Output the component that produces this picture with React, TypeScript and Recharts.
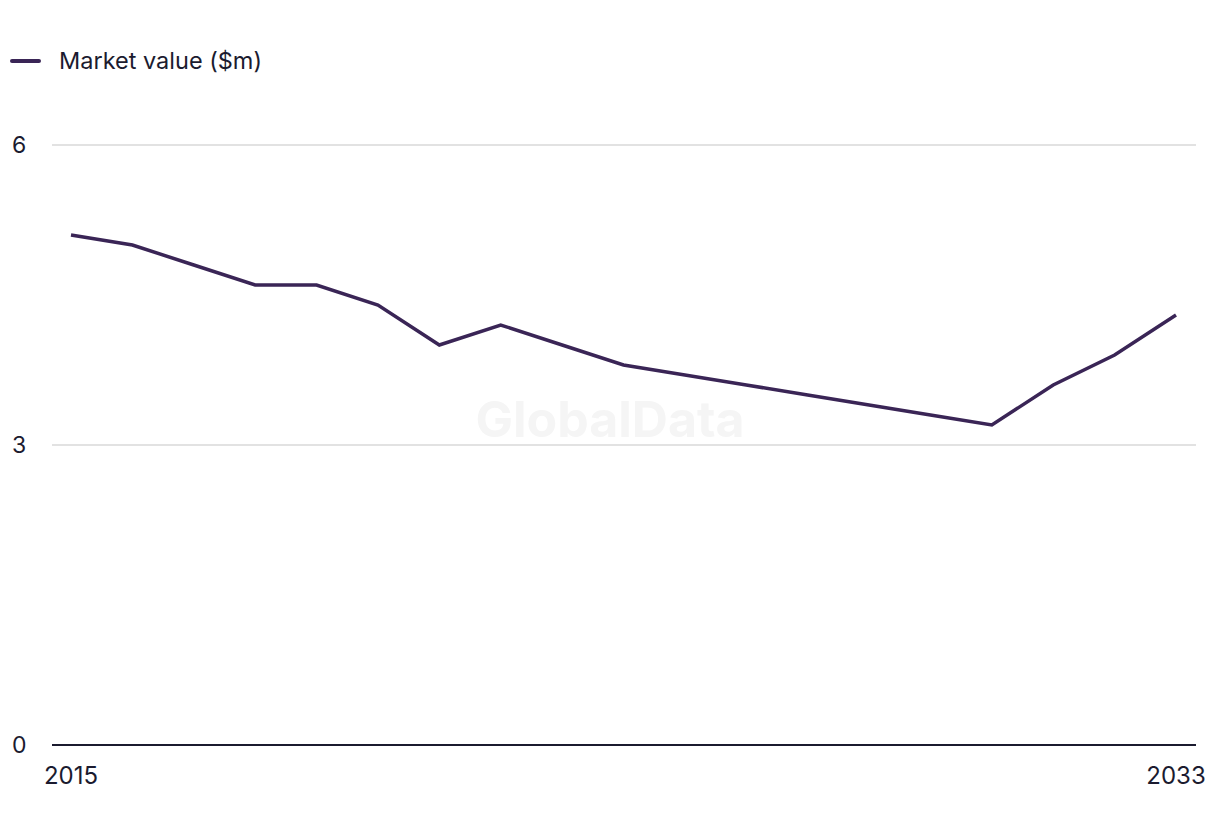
import React from "react";
import { LineChart, Line, XAxis, YAxis, CartesianGrid, Legend } from "recharts";

const years = [
  "2015", "2016", "2017", "2018", "2019", "2020", "2021", "2022", "2023", "2024",
  "2025", "2026", "2027", "2028", "2029", "2030", "2031", "2032", "2033",
];
const marketValue = [
  5.1, 5.0, 4.8, 4.6, 4.6, 4.4, 4.0, 4.2, 4.0, 3.8,
  3.7, 3.6, 3.5, 3.4, 3.3, 3.2, 3.6, 3.9, 4.3,
];
const yTicks = [0, 3, 6];
const xTicks = ["2015", "2033"];

const data = years.map((year, i) => ({ year, value: marketValue[i] }));

const FONT = "Inter, 'Liberation Sans', sans-serif";
const TEXT = "#1b1b2f";
const LINE = "#3a2556";

const LegendContent = () => (
  <div
    style={{
      display: "flex",
      alignItems: "center",
      height: 24,
      lineHeight: "24px",
      fontFamily: FONT,
      fontSize: 23.5,
      color: TEXT,
    }}
  >
    <span style={{ display: "inline-block", width: 31, height: 4, borderRadius: 2, background: LINE, marginRight: 18 }} />
    Market value ($m)
  </div>
);

const YTick = (props: any) => {
  const { y, payload } = props;
  return (
    <text x={12} y={y} dy={8} fill={TEXT} fontFamily={FONT} fontSize={23} textAnchor="start">
      {payload.value}
    </text>
  );
};

export default function App() {
  return (
    <div style={{ position: "absolute", left: 0, top: 0, width: 1220, height: 836, background: "#fff" }}>
      <div
        style={{
          position: "absolute",
          left: 0,
          width: 1220,
          top: 389,
          textAlign: "center",
          fontFamily: FONT,
          fontWeight: 700,
          fontSize: 50,
          color: "#f5f5f5",
        }}
      >
        GlobalData
      </div>
      <div style={{ position: "absolute", left: 0, top: 0 }}>
        <LineChart width={1220} height={836} data={data} margin={{ top: 121, right: 24, left: 0, bottom: 0 }}>
          <CartesianGrid vertical={false} stroke="#d9d9d9" strokeWidth={1.5} />
          <Legend
            verticalAlign="top"
            align="left"
            content={<LegendContent />}
            wrapperStyle={{ top: 49, left: 10 }}
          />
          <XAxis
            dataKey="year"
            ticks={xTicks}
            interval={0}
            padding={{ left: 19, right: 20 }}
            tickLine={false}
            axisLine={{ stroke: TEXT, strokeWidth: 2 }}
            tick={{ fill: TEXT, fontFamily: FONT, fontSize: 24 }}
            tickMargin={16}
            height={91}
          />
          <YAxis
            width={52}
            domain={[0, 6]}
            ticks={yTicks}
            axisLine={false}
            tickLine={false}
            tick={<YTick />}
          />
          <Line
            type="linear"
            dataKey="value"
            stroke={LINE}
            strokeWidth={3.5}
            dot={false}
            isAnimationActive={false}
          />
        </LineChart>
      </div>
    </div>
  );
}
